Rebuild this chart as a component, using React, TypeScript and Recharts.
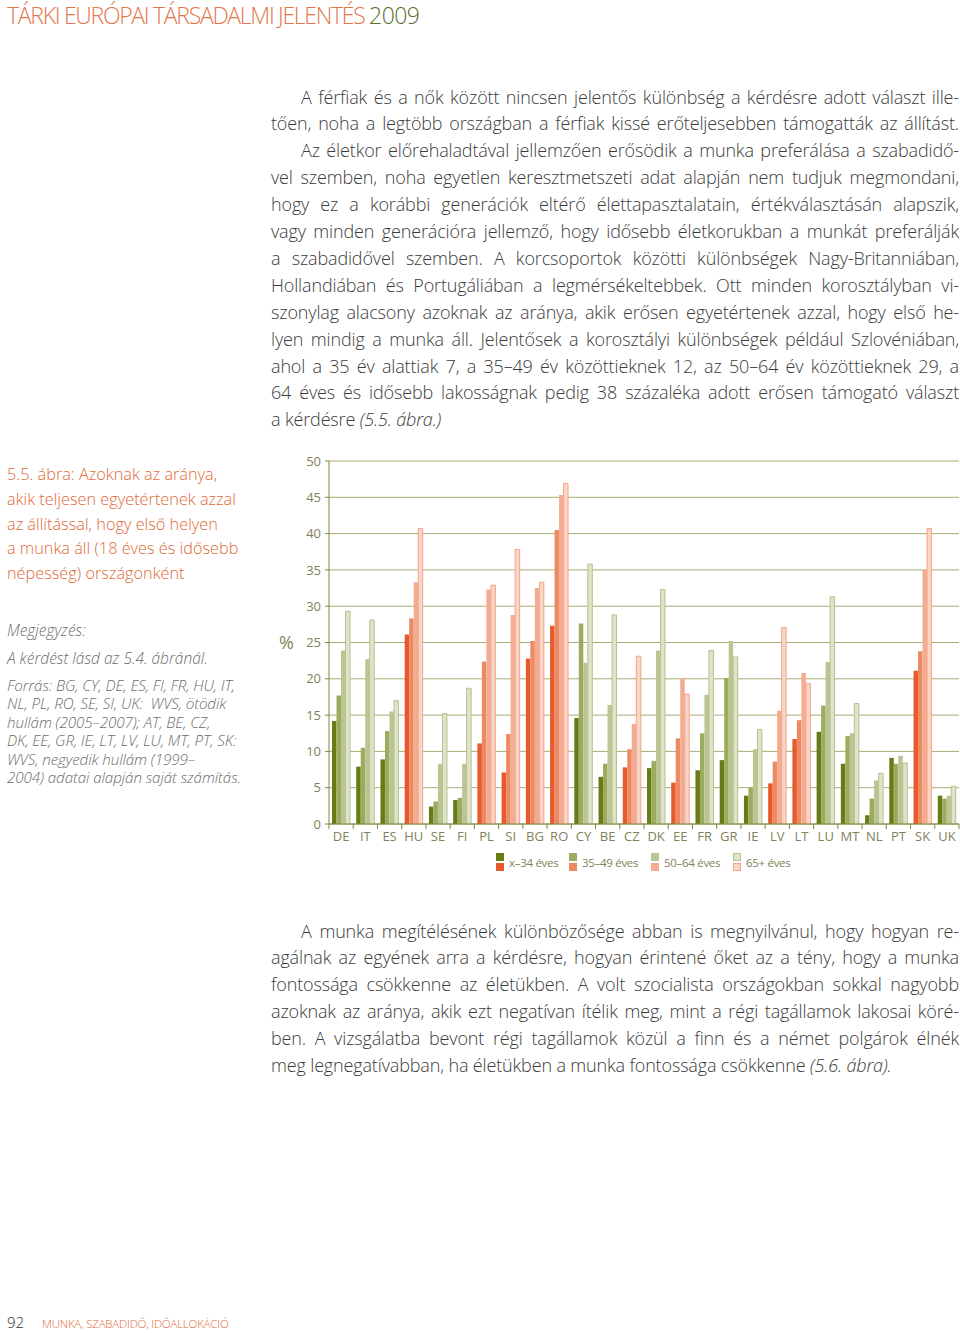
import React from 'react';
import { BarChart, Bar, XAxis, YAxis, CartesianGrid, Cell } from 'recharts';

const countries = ['DE','IT','ES','HU','SE','FI','PL','SI','BG','RO','CY','BE','CZ','DK','EE','FR','GR','IE','LV','LT','LU','MT','NL','PT','SK','UK'];
const postSocialist = ['HU','PL','SI','BG','RO','CZ','EE','LV','LT','SK'];
const ageUpTo34 = [14.2,7.9,8.9,26.1,2.4,3.3,11.1,7.1,22.8,27.3,14.6,6.5,7.8,7.7,5.7,7.4,8.8,3.9,5.6,11.7,12.7,8.3,1.2,9.1,21.1,3.9];
const age35to49 = [17.7,10.5,12.8,28.3,3.1,3.6,22.4,12.4,25.2,40.5,27.6,8.3,10.3,8.7,11.8,12.5,20.1,5.0,8.6,14.3,16.3,12.1,3.5,8.3,23.8,3.5];
const age50to64 = [23.9,22.7,15.5,33.3,8.3,8.3,32.3,28.8,32.5,45.3,22.2,16.4,13.8,23.9,20.1,17.8,25.2,10.3,15.6,20.8,22.3,12.5,6.0,9.4,35.0,3.9];
const age65plus = [29.3,28.1,17.0,40.7,15.2,18.7,32.9,37.8,33.3,46.9,35.8,28.8,23.1,32.3,17.9,23.9,23.0,13.0,27.1,19.4,31.3,16.6,7.0,8.4,40.7,5.2];
const seriesKeys = ['a1','a2','a3','a4'];
const seriesNames = ['x–34 éves','35–49 éves','50–64 éves','65+ éves'];
const yTicks = [0,5,10,15,20,25,30,35,40,45,50];

const greens = ['#687c16','#9bac5f','#bac594','#dfe4c9'];
const oranges = ['#e8592b','#ee8a63','#f4ac91','#fad4c6'];
const greenStroke = ['none','none','none','#b6c190'];
const orangeStroke = ['none','none','none','#f1a68b'];

const data = countries.map((c, i) => ({
  country: c,
  a1: ageUpTo34[i],
  a2: age35to49[i],
  a3: age50to64[i],
  a4: age65plus[i],
}));

const AXIS = '#7d8a3e';
const GRID = '#a9ac74';
const TICKTXT = '#80825a';
const BODY = '#3b3b3b';
const ORANGE = '#e06a36';
const NOTE = '#6d6d6d';
const FONT = '"Open Sans", "DejaVu Sans", sans-serif';

const XTick = (props: any) => {
  const { x, y, payload, index } = props;
  const half = payload && payload.offset ? payload.offset : 630 / 52;
  return (
    <g>
      <line x1={x - half} y1={y - 8} x2={x - half} y2={y - 3} stroke={AXIS} strokeWidth={1} />
      {index === countries.length - 1 && (
        <line x1={x + half} y1={y - 8} x2={x + half} y2={y - 3} stroke={AXIS} strokeWidth={1} />
      )}
      <text x={x} y={y + 9} textAnchor="middle" fill={TICKTXT} fontSize={13} fontFamily={FONT}>{payload.value}</text>
    </g>
  );
};

type LineProps = { top: number; left: number; width: number; last?: boolean; children: React.ReactNode };
const TLine = ({ top, left, width, last, children }: LineProps) => (
  <div style={{
    position: 'absolute', top, left, width, whiteSpace: 'nowrap',
    textAlign: 'justify', textAlignLast: last ? 'left' : 'justify',
    fontSize: 18, letterSpacing: -0.15, lineHeight: '27px', color: BODY, fontWeight: 300,
  } as React.CSSProperties}>{children}</div>
);

const para1 = [
  'A férfiak és a nők között nincsen jelentős különbség a kérdésre adott választ ille-',
  'tően, noha a legtöbb országban a férfiak kissé erőteljesebben támogatták az állítást.',
  'Az életkor előrehaladtával jellemzően erősödik a munka preferálása a szabadidő-',
  'vel szemben, noha egyetlen keresztmetszeti adat alapján nem tudjuk megmondani,',
  'hogy ez a korábbi generációk eltérő élettapasztalatain, értékválasztásán alapszik,',
  'vagy minden generációra jellemző, hogy idősebb életkorukban a munkát preferálják',
  'a szabadidővel szemben. A korcsoportok közötti különbségek Nagy-Britanniában,',
  'Hollandiában és Portugáliában a legmérsékeltebbek. Ott minden korosztályban vi-',
  'szonylag alacsony azoknak az aránya, akik erősen egyetértenek azzal, hogy első he-',
  'lyen mindig a munka áll. Jelentősek a korosztályi különbségek például Szlovéniában,',
  'ahol a 35 év alattiak 7, a 35–49 év közöttieknek 12, az 50–64 év közöttieknek 29, a',
  '64 éves és idősebb lakosságnak pedig 38 százaléka adott erősen támogató választ',
];
const para1Indented = [0, 2];

const para2 = [
  'A munka megítélésének különbözősége abban is megnyilvánul, hogy hogyan re-',
  'agálnak az egyének arra a kérdésre, hogyan érintené őket az a tény, hogy a munka',
  'fontossága csökkenne az életükben. A volt szocialista országokban sokkal nagyobb',
  'azoknak az aránya, akik ezt negatívan ítélik meg, mint a régi tagállamok lakosai köré-',
  'ben. A vizsgálatba bevont régi tagállamok közül a finn és a német polgárok élnék',
];

const captionLines = [
  '5.5. ábra: Azoknak az aránya,',
  'akik teljesen egyetértenek azzal',
  'az állítással, hogy első helyen',
  'a munka áll (18 éves és idősebb',
  'népesség) országonként',
];
const sourceLines = [
  'Forrás: BG, CY, DE, ES, FI, FR, HU, IT,',
  'NL, PL, RO, SE, SI, UK:  WVS, ötödik',
  'hullám (2005–2007); AT, BE, CZ,',
  'DK, EE, GR, IE, LT, LV, LU, MT, PT, SK:',
  'WVS, negyedik hullám (1999–',
  '2004) adatai alapján saját számítás.',
];

const legendLeft = [496, 569, 651, 733];

const Legend = () => (
  <div style={{ position: 'absolute', left: 0, top: 853, fontFamily: FONT, fontSize: 11.5, letterSpacing: -0.3, color: TICKTXT }}>
    {seriesNames.map((n, i) => (
      <div key={n} style={{ position: 'absolute', left: legendLeft[i], top: 0, display: 'flex', alignItems: 'center', whiteSpace: 'nowrap' }}>
        <div style={{ display: 'flex', flexDirection: 'column', marginRight: 5 }}>
          <div style={{ width: 8, height: 8, background: greens[i], border: i === 3 ? `1px solid ${greenStroke[3]}` : 'none', boxSizing: 'border-box', marginBottom: 2 }} />
          <div style={{ width: 8, height: 8, background: oranges[i], border: i === 3 ? `1px solid ${orangeStroke[3]}` : 'none', boxSizing: 'border-box' }} />
        </div>
        <span>{n}</span>
      </div>
    ))}
  </div>
);

export default function App() {
  return (
    <div style={{ position: 'absolute', left: 0, top: 0, width: 960, height: 1333, background: '#fff', fontFamily: FONT, overflow: 'hidden' }}>
      <div style={{ position: 'absolute', left: 7, top: 0, fontSize: 23, lineHeight: '31px', fontWeight: 300, color: '#e2764a', whiteSpace: 'nowrap', letterSpacing: -1.3 }}>
        TÁRKI EURÓPAI TÁRSADALMI JELENTÉS <span style={{ color: '#5d6b2c', letterSpacing: -0.6 }}>2009</span>
      </div>

      {para1.map((t, i) => {
        const ind = para1Indented.includes(i);
        return (
          <TLine key={i} top={83.5 + i * 26.9} left={ind ? 301 : 271} width={ind ? 658 : 688}>{t}</TLine>
        );
      })}
      <TLine top={83.5 + 12 * 26.9} left={271} width={688} last>
        a kérdésre <i>(5.5. ábra.)</i>
      </TLine>

      {para2.map((t, i) => (
        <TLine key={i} top={917.5 + i * 26.8} left={i === 0 ? 301 : 271} width={i === 0 ? 658 : 688}>{t}</TLine>
      ))}
      <TLine top={917.5 + 5 * 26.8} left={271} width={688} last>
        meg legnegatívabban, ha életükben a munka fontossága csökkenne <i>(5.6. ábra).</i>
      </TLine>

      {captionLines.map((t, i) => (
        <div key={i} style={{ position: 'absolute', left: 7, top: 462 + i * 24.8, fontSize: 16.3, lineHeight: '24px', color: ORANGE, fontWeight: 300, whiteSpace: 'nowrap' }}>{t}</div>
      ))}
      <div style={{ position: 'absolute', left: 7, top: 619, fontSize: 15.5, lineHeight: '22px', color: NOTE, fontStyle: 'italic', fontWeight: 300 }}>Megjegyzés:</div>
      <div style={{ position: 'absolute', left: 7, top: 647, fontSize: 15.5, lineHeight: '22px', color: NOTE, fontStyle: 'italic', fontWeight: 300, whiteSpace: 'nowrap' }}>A kérdést lásd az 5.4. ábránál.</div>
      {sourceLines.map((t, i) => (
        <div key={i} style={{ position: 'absolute', left: 7, top: 676 + i * 18.4, fontSize: 15.2, lineHeight: '18px', color: NOTE, fontStyle: 'italic', fontWeight: 300, whiteSpace: 'pre', letterSpacing: -0.1 }}>{t}</div>
      ))}

      <div style={{ position: 'absolute', left: 270, top: 450 }}>
        <BarChart
          width={690}
          height={410}
          data={data}
          margin={{ top: 11, right: 1, left: 0, bottom: 0 }}
          barGap={0}
          barSize={4.5}
        >
          <CartesianGrid vertical={false} stroke={GRID} strokeWidth={1} />
          <XAxis
            dataKey="country"
            axisLine={{ stroke: AXIS }}
            tickLine={false}
            tick={<XTick />}
            height={36}
            interval={0}
          />
          <YAxis
            domain={[0, 50]}
            ticks={yTicks}
            width={59}
            tickSize={4}
            tickMargin={4}
            axisLine={{ stroke: AXIS }}
            tickLine={{ stroke: AXIS }}
            tick={{ fill: TICKTXT, fontSize: 13, fontFamily: FONT }}
            label={{ value: '%', position: 'insideLeft', offset: 9, fill: TICKTXT, fontSize: 18, fontFamily: FONT }}
            interval={0}
          />
          <YAxis yAxisId="right" orientation="right" width={0} tick={false} tickLine={false} axisLine={{ stroke: AXIS }} domain={[0, 50]} />
          {seriesKeys.map((k, si) => (
            <Bar key={k} dataKey={k} name={seriesNames[si]} isAnimationActive={false}>
              {countries.map((c) => {
                const orange = postSocialist.includes(c);
                const stroke = orange ? orangeStroke[si] : greenStroke[si];
                return (
                  <Cell
                    key={c}
                    fill={orange ? oranges[si] : greens[si]}
                    stroke={stroke}
                    strokeWidth={stroke === 'none' ? 0 : 1}
                  />
                );
              })}
            </Bar>
          ))}
        </BarChart>
      </div>
      <Legend />

      <div style={{ position: 'absolute', left: 7, top: 1312, fontSize: 15, color: '#333', fontWeight: 300 }}>92</div>
      <div style={{ position: 'absolute', left: 42, top: 1316, fontSize: 11.5, color: ORANGE, fontWeight: 300, letterSpacing: -0.2 }}>MUNKA, SZABADIDŐ, IDŐALLOKÁCIÓ</div>
    </div>
  );
}
